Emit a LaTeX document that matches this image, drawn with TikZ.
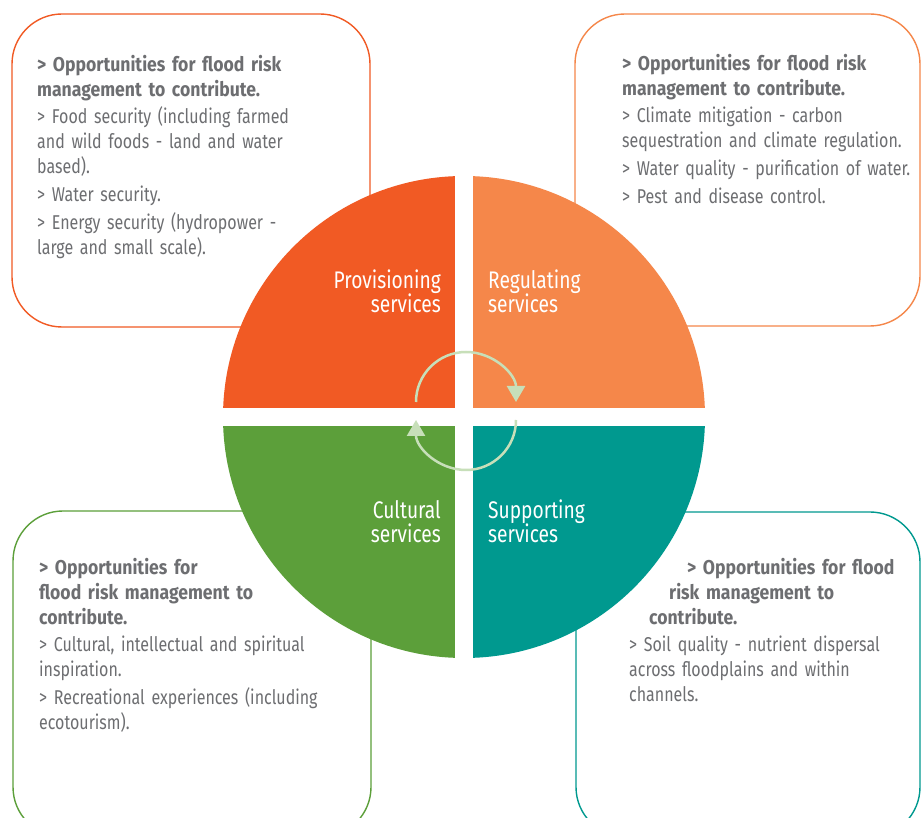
\documentclass[tikz,border=0pt]{standalone}
\usepackage{fontspec}
\setmainfont{Fira Sans}[FakeStretch=0.8, WordSpace=0.85, BoldFeatures={FakeStretch=0.88}]
\usetikzlibrary{arrows.meta}
\definecolor{provcol}{HTML}{F15A24}
\definecolor{regcol}{HTML}{F5874A}
\definecolor{cultcol}{HTML}{5C9F3A}
\definecolor{suppcol}{HTML}{00998F}
\definecolor{textgrey}{HTML}{6D6E71}
\definecolor{cyclecol}{HTML}{C7DFB9}
\tikzset{
  infobox/.style={line width=1.4pt, rounded corners=50pt},
  infotext/.style={anchor=north west, inner sep=0pt, align=left, text width=320pt,
    text=textgrey, font=\fontsize{20}{25}\selectfont},
  quadlabel/.style={inner sep=0pt, text=white, font=\fontsize{24}{24}\selectfont},
  cyclearrow/.style={cyclecol, line width=2.5pt, -{Triangle[width=18pt,length=16pt]}}
}
\begin{document}
\begin{tikzpicture}[x=1pt,y=1pt]
\useasboundingbox (0,0) rectangle (921,817);
\fill[white] (0,0) rectangle (921,817);
% boxes
\draw[infobox, provcol] (12,490) rectangle (370,803);
\draw[infobox, regcol]  (575,491) rectangle (920,803);
\draw[infobox, cultcol] (13,-20) rectangle (371,306);
\draw[infobox, suppcol] (576,-20) rectangle (920,305);
% quarters of the wheel
\fill[provcol] (464,400) -- (223,400) arc[start angle=180, end angle=90, radius=241] -- cycle;
\fill[regcol]  (464,400) -- (464,641) arc[start angle=90, end angle=0, radius=241] -- cycle;
\fill[suppcol] (464,400) -- (705,400) arc[start angle=0, end angle=-90, radius=241] -- cycle;
\fill[cultcol] (464,400) -- (464,159) arc[start angle=-90, end angle=-180, radius=241] -- cycle;
\draw[white, line width=18pt] (464,150) -- (464,650);
\draw[white, line width=18pt] (215,400) -- (713,400);
% cycle
\draw[cyclearrow] (416,415) arc[start angle=180, end angle=0, radius=50];
\draw[cyclearrow] (516,397) arc[start angle=0, end angle=-180, radius=50];
% labels
\node[quadlabel, anchor=north east, align=right] (prov) at (441,547) {Provisioning\\services};
\node[quadlabel, anchor=north west, align=left] (reg) at (488,547) {Regulating\\services};
\node[quadlabel, anchor=north east, align=right] (cult) at (441,317) {Cultural\\services};
\node[quadlabel, anchor=north west, align=left] (supp) at (488,317) {Supporting\\services};
% texts
\node[infotext] (provtext) at (37,762) {\textbf{> Opportunities for flood risk}\\
  \textbf{management to contribute.}\\[2pt]
  > Food security (including farmed\\ and wild foods - land and water\\ based).\\[3pt]
  > Water security.\\[3pt]
  > Energy security (hydropower -\\ large and small scale).};
\node[infotext] (regtext) at (622,763) {\textbf{> Opportunities for flood risk}\\
  \textbf{management to contribute.}\\[2pt]
  > Climate mitigation - carbon\\ sequestration and climate regulation.\\[3pt]
  > Water quality - purification of water.\\[3pt]
  > Pest and disease control.};
\node[infotext] (culttext) at (39,259) {\textbf{> Opportunities for}\\
  \textbf{flood risk management to}\\
  \textbf{contribute.}\\[2pt]
  > Cultural, intellectual and spiritual\\ inspiration.\\[3pt]
  > Recreational experiences (including\\ ecotourism).};
\node[infotext] (supptext) at (629,259) {\hspace*{58pt}\textbf{> Opportunities for flood}\\
  \hspace*{40pt}\textbf{risk management to}\\
  \hspace*{20pt}\textbf{contribute.}\\[2pt]
  > Soil quality - nutrient dispersal\\ across floodplains and within\\ channels.};
\end{tikzpicture}
\end{document}
